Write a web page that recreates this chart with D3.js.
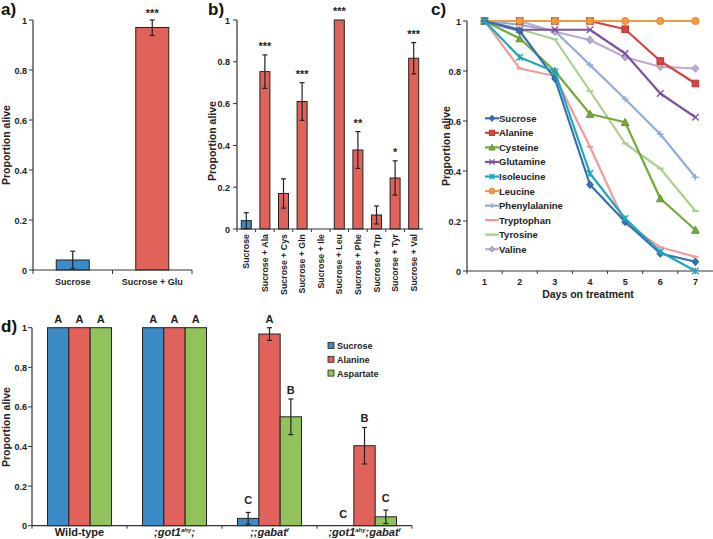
<!DOCTYPE html>
<html><head><meta charset="utf-8">
<script src="https://cdn.jsdelivr.net/npm/d3@7"></script>
<style>
html,body{margin:0;padding:0;background:#fff;}
svg{display:block;font-family:"Liberation Sans",Arial,sans-serif;font-weight:bold;}
</style></head>
<body><svg id="chart" width="713" height="539"></svg>
<script>
// ---------- DATA ----------
const yTickValues = [0, 0.2, 0.4, 0.6, 0.8, 1];
const yTickLabels = ["0", "0.2", "0.4", "0.6", "0.8", "1"];

// panel a
const aCategories = ["Sucrose", "Sucrose + Glu"];
const aValues = [0.04, 0.97];
const aErr = [0.035, 0.032];
const aStars = ["", "***"];

// panel b
const bCategories = ["Sucrose", "Sucrose + Ala", "Sucrose + Cys", "Sucrose + Gln", "Sucrose + Ile",
  "Sucrose + Leu", "Sucrose + Phe", "Sucrose + Trp", "Sucorse + Tyr", "Sucrose + Val"];
const bValues = [0.04, 0.753, 0.17, 0.61, 0, 1.0, 0.378, 0.067, 0.244, 0.817];
const bErr = [0.038, 0.08, 0.07, 0.09, 0, 0, 0.088, 0.043, 0.082, 0.075];
const bStars = ["", "***", "", "***", "", "***", "**", "", "*", "***"];

// panel c
const cDays = [1, 2, 3, 4, 5, 6, 7];
const cSeriesNames = ["Sucrose", "Alanine", "Cysteine", "Glutamine", "Isoleucine", "Leucine",
  "Phenylalanine", "Tryptophan", "Tyrosine", "Valine"];
const cSucrose       = [1, 0.96, 0.77, 0.345, 0.197, 0.07, 0.037];
const cAlanine       = [1, 1, 1, 1, 0.967, 0.84, 0.75];
const cCysteine      = [1, 0.93, 0.80, 0.628, 0.595, 0.29, 0.164];
const cGlutamine     = [1, 0.965, 0.965, 0.965, 0.87, 0.71, 0.615];
const cIsoleucine    = [1, 0.855, 0.797, 0.39, 0.21, 0.077, 0];
const cLeucine       = [1, 1, 1, 1, 1, 1, 1];
const cPhenylalanine = [1, 0.985, 0.96, 0.824, 0.688, 0.547, 0.375];
const cTryptophan    = [1, 0.81, 0.78, 0.497, 0.19, 0.095, 0.057];
const cTyrosine      = [1, 0.967, 0.927, 0.72, 0.51, 0.41, 0.24];
const cValine        = [1, 1, 0.957, 0.924, 0.855, 0.817, 0.81];
const cXLabel = "Days on treatment";

// panel d
const dGroups = ["Wild-type", ";got1^ahy;", ";;gabat^f", ";got1^ahy;gabat^f"];
const dSeries = ["Sucrose", "Alanine", "Aspartate"];
const dSucrose   = [1, 1, 0.037, 0];
const dAlanine   = [1, 1, 0.968, 0.404];
const dAspartate = [1, 1, 0.55, 0.045];
const dErrSucrose   = [0, 0, 0.03, 0];
const dErrAlanine   = [0, 0, 0.032, 0.092];
const dErrAspartate = [0, 0, 0.09, 0.034];
const dLetSucrose   = ["A", "A", "C", "C"];
const dLetAlanine   = ["A", "A", "A", "B"];
const dLetAspartate = ["A", "A", "B", "C"];

// ---------- STYLE ----------
const BLUE = "#3C8BC6", RED = "#E1625B", GREEN = "#92C25C";
const TXT = "#222";
const svg = d3.select("#chart");

function yAxis(g, y, x0, labelRight) {
  g.append("line").attr("x1", x0).attr("x2", x0).attr("y1", y(0)).attr("y2", y(1))
    .attr("stroke", "#333").attr("stroke-width", 1.2);
  yTickValues.forEach((v, i) => {
    g.append("line").attr("x1", x0 - 4).attr("x2", x0).attr("y1", y(v)).attr("y2", y(v))
      .attr("stroke", "#333").attr("stroke-width", 1);
    g.append("text").attr("x", labelRight).attr("y", y(v) + 3.5).attr("text-anchor", "end")
      .attr("font-size", 9).attr("fill", TXT).text(yTickLabels[i]);
  });
}
function yLabel(g, x, yc, txt) {
  g.append("text").attr("transform", `translate(${x},${yc}) rotate(-90)`)
    .attr("text-anchor", "middle").attr("font-size", 10.5).attr("fill", TXT).text(txt);
}
function title(x, y, t) {
  svg.append("text").attr("x", x).attr("y", y).attr("font-size", 17).attr("fill", "#111").text(t);
}
function errBar(g, cx, top, bot, cap) {
  g.append("line").attr("x1", cx).attr("x2", cx).attr("y1", top).attr("y2", bot)
    .attr("stroke", "#222").attr("stroke-width", 1.2);
  [top, bot].forEach(yy => g.append("line").attr("x1", cx - cap).attr("x2", cx + cap)
    .attr("y1", yy).attr("y2", yy).attr("stroke", "#222").attr("stroke-width", 1.2));
}

// ---------- PANEL A ----------
{
  const g = svg.append("g");
  const y = d3.scaleLinear().domain([0, 1]).range([270, 20]);
  const x = d3.scaleBand().domain(aCategories).range([33, 192]);
  const bw = 33;
  aCategories.forEach((c, i) => {
    const cx = x(c) + x.bandwidth() / 2;
    g.append("rect").attr("x", cx - bw / 2).attr("y", y(aValues[i])).attr("width", bw)
      .attr("height", y(0) - y(aValues[i])).attr("fill", i === 0 ? BLUE : RED)
      .attr("stroke", "#222").attr("stroke-width", 1);
    errBar(g, cx, y(Math.min(1, aValues[i] + aErr[i])), y(Math.max(0, aValues[i] - aErr[i])), 2.5);
    if (aStars[i]) g.append("text").attr("x", cx).attr("y", 17).attr("text-anchor", "middle")
      .attr("font-size", 11).attr("fill", TXT).text(aStars[i]);
    g.append("text").attr("x", cx).attr("y", 285).attr("text-anchor", "middle")
      .attr("font-size", 9).attr("fill", TXT).text(c);
  });
  g.append("line").attr("x1", 33).attr("x2", 192).attr("y1", y(0)).attr("y2", y(0))
    .attr("stroke", "#333").attr("stroke-width", 1.2);
  [33, 112.5, 192].forEach(t => g.append("line").attr("x1", t).attr("x2", t)
    .attr("y1", y(0)).attr("y2", y(0) + 4).attr("stroke", "#333"));
  yAxis(g, y, 33, 27);
  yLabel(g, 10, 145, "Proportion alive");
  title(1, 15, "a)");
}

// ---------- PANEL B ----------
{
  const g = svg.append("g");
  const y = d3.scaleLinear().domain([0, 1]).range([229, 20]);
  const x = d3.scaleBand().domain(bCategories).range([237, 423]);
  const bw = 10;
  bCategories.forEach((c, i) => {
    const cx = x(c) + x.bandwidth() / 2;
    if (bValues[i] > 0) g.append("rect").attr("x", cx - bw / 2).attr("y", y(bValues[i])).attr("width", bw)
      .attr("height", y(0) - y(bValues[i])).attr("fill", i === 0 ? BLUE : RED)
      .attr("stroke", "#222").attr("stroke-width", 1);
    if (bErr[i] > 0) errBar(g, cx, y(bValues[i] + bErr[i]), y(Math.max(0, bValues[i] - bErr[i])), 2.5);
    if (bStars[i]) g.append("text").attr("x", cx).attr("y", y(Math.min(1, bValues[i] + bErr[i])) - 5)
      .attr("text-anchor", "middle").attr("font-size", 11).attr("fill", TXT).text(bStars[i]);
    g.append("text").attr("transform", `translate(${cx + 3},${234}) rotate(-90)`)
      .attr("text-anchor", "end").attr("font-size", 8.8).attr("fill", TXT).text(c);
  });
  g.append("line").attr("x1", 237).attr("x2", 423).attr("y1", y(0)).attr("y2", y(0))
    .attr("stroke", "#333").attr("stroke-width", 1.2);
  bCategories.forEach(c => g.append("line").attr("x1", x(c)).attr("x2", x(c))
    .attr("y1", y(0)).attr("y2", y(0) + 3).attr("stroke", "#333"));
  yAxis(g, y, 237, 230);
  yLabel(g, 216, 141, "Proportion alive");
  title(208, 15, "b)");
}

// ---------- PANEL C ----------
{
  const g = svg.append("g");
  const y = d3.scaleLinear().domain([0, 1]).range([271, 21]);
  const x = d3.scaleBand().domain(cDays).range([467, 713]);
  const cx = d => x(d) + x.bandwidth() / 2;
  const series = [cSucrose, cAlanine, cCysteine, cGlutamine, cIsoleucine, cLeucine,
    cPhenylalanine, cTryptophan, cTyrosine, cValine];
  const colors = ["#3470B5", "#D7443D", "#74AA3D", "#7D519F", "#1FA5BC", "#F29B40",
    "#8FADDB", "#F09C9A", "#AAD08E", "#B9ABD4"];
  const markers = ["diamond", "square", "triangle", "x", "star", "circle", "plus", "dash", "dash", "diamond"];
  function marker(gg, type, px, py, col, s) {
    if (type === "diamond") gg.append("path").attr("d", `M${px},${py - s - 0.5}L${px + s},${py}L${px},${py + s + 0.5}L${px - s},${py}Z`).attr("fill", col).attr("stroke", d3.color(col).darker(0.4));
    else if (type === "square") gg.append("rect").attr("x", px - s).attr("y", py - s).attr("width", 2 * s).attr("height", 2 * s).attr("fill", col).attr("stroke", d3.color(col).darker(0.4));
    else if (type === "triangle") gg.append("path").attr("d", `M${px},${py - s - 0.5}L${px + s + 0.5},${py + s}L${px - s - 0.5},${py + s}Z`).attr("fill", col).attr("stroke", d3.color(col).darker(0.4));
    else if (type === "circle") gg.append("circle").attr("cx", px).attr("cy", py).attr("r", s + 0.3).attr("fill", col).attr("stroke", d3.color(col).darker(0.3));
    else if (type === "x" || type === "star") {
      gg.append("path").attr("d", `M${px - s},${py - s}L${px + s},${py + s}M${px - s},${py + s}L${px + s},${py - s}` + (type === "star" ? `M${px},${py - s}L${px},${py + s}` : ""))
        .attr("stroke", col).attr("stroke-width", 1.3).attr("fill", "none");
    } else if (type === "plus") {
      gg.append("path").attr("d", `M${px - s},${py}L${px + s},${py}M${px},${py - s}L${px},${py + s}`).attr("stroke", col).attr("stroke-width", 1.3);
    } else if (type === "dash") {
      gg.append("path").attr("d", `M${px - s},${py}L${px + s},${py}`).attr("stroke", col).attr("stroke-width", 2);
    }
  }
  // axes
  g.append("line").attr("x1", 467).attr("x2", 713).attr("y1", y(0)).attr("y2", y(0)).attr("stroke", "#333").attr("stroke-width", 1.2);
  cDays.forEach(d => g.append("line").attr("x1", x(d)).attr("x2", x(d)).attr("y1", y(0)).attr("y2", y(0) + 3).attr("stroke", "#333"));
  cDays.forEach(d => g.append("text").attr("x", cx(d)).attr("y", 285).attr("text-anchor", "middle").attr("font-size", 9).attr("fill", TXT).text(d));
  g.append("text").attr("x", 588).attr("y", 298).attr("text-anchor", "middle").attr("font-size", 10.5).attr("fill", TXT).text(cXLabel);
  yAxis(g, y, 467, 461);
  yLabel(g, 450, 146, "Proportion alive");
  title(431, 15, "c)");
  const line = d3.line().x((v, i) => cx(cDays[i])).y(v => y(v));
  const order = [8, 6, 9, 3, 2, 1, 5, 7, 0, 4];
  order.forEach(k => {
    g.append("path").attr("d", line(series[k])).attr("fill", "none").attr("stroke", colors[k])
      .attr("stroke-width", 2.2).attr("stroke-linejoin", "round");
    series[k].forEach((v, i) => marker(g, markers[k], cx(cDays[i]), y(v), colors[k], 3.3));
  });
  // legend
  cSeriesNames.forEach((n, k) => {
    const ly = 118.3 + k * 14.55;
    g.append("line").attr("x1", 485).attr("x2", 499).attr("y1", ly).attr("y2", ly)
      .attr("stroke", colors[k]).attr("stroke-width", 2.2);
    marker(g, markers[k], 492, ly, colors[k], 2.6);
    g.append("text").attr("x", 499).attr("y", ly + 3.5).attr("font-size", 9.5).attr("fill", TXT).text(n);
  });
}

// ---------- PANEL D ----------
{
  const g = svg.append("g");
  const y = d3.scaleLinear().domain([0, 1]).range([525.7, 327.7]);
  const x0 = d3.scaleBand().domain(dGroups).range([32, 412]);
  const x1 = d3.scaleBand().domain(dSeries).range([-32, 32]);
  const vals = [dSucrose, dAlanine, dAspartate];
  const errs = [dErrSucrose, dErrAlanine, dErrAspartate];
  const lets = [dLetSucrose, dLetAlanine, dLetAspartate];
  const cols = [BLUE, RED, GREEN];
  dGroups.forEach((grp, gi) => {
    const gc = x0(grp) + x0.bandwidth() / 2;
    dSeries.forEach((s, si) => {
      const v = vals[si][gi], e = errs[si][gi];
      const bx = gc + x1(s);
      const bc = bx + x1.bandwidth() / 2;
      if (v > 0) g.append("rect").attr("x", bx).attr("y", y(v)).attr("width", x1.bandwidth())
        .attr("height", y(0) - y(v)).attr("fill", cols[si]).attr("stroke", "#222").attr("stroke-width", 1);
      if (e > 0) errBar(g, bc, y(Math.min(1, v + e)), y(Math.max(0, v - e)), 2.5);
      const top = Math.min(1, v + e);
      g.append("text").attr("x", bc).attr("y", y(top) - (gi >= 2 && top < 0.2 ? 8 : 5))
        .attr("text-anchor", "middle").attr("font-size", 11).attr("fill", TXT).text(lets[si][gi]);
    });
    const t = g.append("text").attr("x", gc).attr("y", 536).attr("text-anchor", "middle")
      .attr("font-size", 11).attr("fill", TXT);
    if (gi === 0) t.text(grp);
    else {
      t.attr("font-style", "italic");
      let raised = false;
      grp.split(/(\^[a-z]+)/).forEach(part => {
        if (!part) return;
        if (part[0] === "^") {
          t.append("tspan").attr("font-size", 6).attr("dy", -4).text(part.slice(1));
          raised = true;
        } else {
          const ts = t.append("tspan").text(part);
          if (raised) { ts.attr("dy", 4); raised = false; }
        }
      });
    }
  });
  g.append("line").attr("x1", 32).attr("x2", 412).attr("y1", y(0)).attr("y2", y(0)).attr("stroke", "#333").attr("stroke-width", 1.2);
  [32, 127, 222, 317, 412].forEach(t => g.append("line").attr("x1", t).attr("x2", t).attr("y1", y(0)).attr("y2", y(0) + 3).attr("stroke", "#333"));
  yAxis(g, y, 32, 27);
  yLabel(g, 10, 427, "Proportion alive");
  title(1, 332, "d)");
  dSeries.forEach((s, i) => {
    const ly = 346 + i * 13.8;
    g.append("rect").attr("x", 328).attr("y", ly - 3.5).attr("width", 6).attr("height", 6)
      .attr("fill", cols[i]).attr("stroke", "#222").attr("stroke-width", 0.8);
    g.append("text").attr("x", 337).attr("y", ly + 3).attr("font-size", 9).attr("fill", TXT).text(s);
  });
}
</script></body></html>
